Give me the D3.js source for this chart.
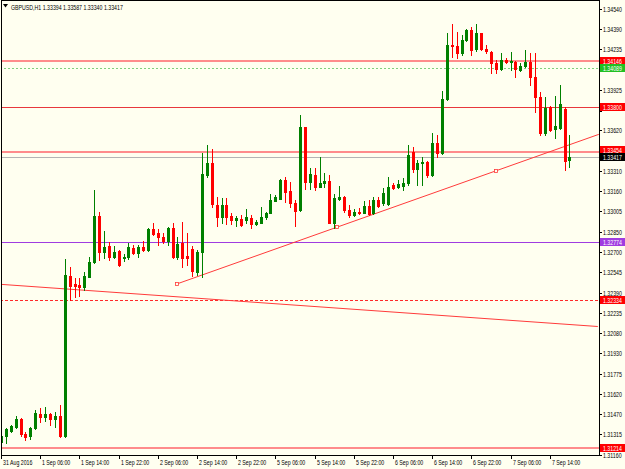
<!DOCTYPE html>
<html lang="en">
<head>
<meta charset="utf-8">
<title>GBPUSD,H1</title>
<script src="https://cdn.jsdelivr.net/npm/d3@7"></script>
<style>
  body { margin: 0; background: #fffff0; }
  svg { display: block; }
  .lbl { font-family: "Liberation Sans", Arial, sans-serif; font-size: 7px; }
</style>
</head>
<body>
<svg id="chart" width="625" height="469"></svg>
<script>
// one bar per hour, bar 0 = 31 Aug 22:00 (weekend hours skipped)
var opens = [1.31260,1.31305,1.31343,1.31373,1.31434,1.31320,1.31305,1.31366,1.31472,1.31449,
  1.31472,1.31434,1.31457,1.31305,1.32516,1.32455,1.32444,1.32433,1.32508,1.32622,
  1.32971,1.32698,1.32743,1.32660,1.32705,1.32655,1.32660,1.32728,1.32690,1.32736,
  1.32713,1.32872,1.32842,1.32812,1.32781,1.32880,1.32660,1.32766,1.32664,1.32721,
  1.32546,1.32698,1.33282,1.33373,1.33054,1.32963,1.33054,1.32971,1.32944,1.32948,
  1.32940,1.32956,1.32910,1.32918,1.32963,1.32993,1.33084,1.33100,1.33244,1.33160,
  1.33069,1.33016,1.33645,1.33228,1.33282,1.33191,1.33221,1.33236,1.32918,1.33100,
  1.33115,1.33016,1.32978,1.33001,1.32993,1.33046,1.32993,1.33092,1.33069,1.33062,
  1.33206,1.33191,1.33198,1.33221,1.33456,1.33327,1.33375,1.33380,1.33282,1.33524,
  1.33448,1.33858,1.34267,1.34259,1.34206,1.34305,1.34381,1.34237,1.34358,1.34237,
  1.34214,1.34130,1.34085,1.34153,1.34138,1.34138,1.34077,1.34108,1.34138,1.34024,
  1.33873,1.33600,1.33797,1.33627,1.33638,1.33782,1.33394];
var highs = [1.31366,1.31366,1.31388,1.31457,1.31442,1.31335,1.31373,1.31502,1.31517,1.31525,
  1.31479,1.31487,1.31540,1.32645,1.32584,1.32501,1.32501,1.32546,1.32660,1.33168,
  1.33001,1.32857,1.32774,1.32743,1.32713,1.32683,1.32766,1.32751,1.32751,1.32781,
  1.32880,1.32918,1.32872,1.32842,1.32887,1.32918,1.32812,1.32925,1.32842,1.32743,
  1.32713,1.33448,1.33509,1.33479,1.33115,1.33107,1.33107,1.32993,1.32971,1.32978,
  1.33024,1.32978,1.32940,1.33039,1.33001,1.33138,1.33130,1.33251,1.33266,1.33228,
  1.33092,1.33736,1.33645,1.33335,1.33335,1.33418,1.33297,1.33282,1.33138,1.33198,
  1.33122,1.33054,1.33024,1.33031,1.33084,1.33092,1.33115,1.33115,1.33183,1.33266,
  1.33221,1.33244,1.33259,1.33509,1.33494,1.33395,1.33418,1.33384,1.33600,1.33585,
  1.33918,1.34358,1.34426,1.34365,1.34343,1.34388,1.34403,1.34426,1.34358,1.34267,
  1.34221,1.34153,1.34206,1.34168,1.34214,1.34142,1.34130,1.34229,1.34206,1.34206,
  1.33911,1.33873,1.33805,1.33881,1.33964,1.33797,1.33587];
var lows = [1.31252,1.31252,1.31335,1.31366,1.31305,1.31275,1.31282,1.31358,1.31411,1.31419,
  1.31388,1.31373,1.31297,1.31297,1.32335,1.32357,1.32364,1.32410,1.32508,1.32614,
  1.32637,1.32652,1.32637,1.32652,1.32592,1.32630,1.32645,1.32686,1.32660,1.32705,
  1.32705,1.32827,1.32751,1.32766,1.32751,1.32652,1.32645,1.32584,1.32599,1.32516,
  1.32524,1.32508,1.33266,1.33039,1.32895,1.32918,1.32910,1.32910,1.32895,1.32895,
  1.32918,1.32880,1.32903,1.32914,1.32948,1.32990,1.33084,1.33096,1.33077,1.33039,
  1.32895,1.33009,1.33175,1.33175,1.33168,1.33187,1.33191,1.32914,1.32880,1.33092,
  1.33001,1.32963,1.32971,1.32986,1.32990,1.32978,1.32986,1.33039,1.33054,1.33054,
  1.33175,1.33183,1.33168,1.33206,1.33304,1.33206,1.33206,1.33266,1.33274,1.33418,
  1.33444,1.33850,1.34176,1.34168,1.34191,1.34297,1.34191,1.34221,1.34229,1.34206,
  1.34055,1.34055,1.34077,1.34130,1.34077,1.34024,1.34070,1.34100,1.33964,1.33759,
  1.33585,1.33585,1.33615,1.33560,1.33630,1.33319,1.33340];
var closes = [1.31305,1.31358,1.31381,1.31434,1.31320,1.31297,1.31366,1.31479,1.31449,1.31472,
  1.31434,1.31457,1.31305,1.32524,1.32440,1.32440,1.32436,1.32516,1.32622,1.32971,
  1.32698,1.32736,1.32660,1.32698,1.32599,1.32662,1.32736,1.32690,1.32736,1.32713,
  1.32872,1.32834,1.32812,1.32781,1.32880,1.32660,1.32758,1.32652,1.32649,1.32554,
  1.32698,1.33289,1.33373,1.33062,1.32963,1.33054,1.32963,1.32940,1.32959,1.32903,
  1.32963,1.32910,1.32925,1.32963,1.32993,1.33093,1.33115,1.33244,1.33153,1.33069,
  1.33009,1.33645,1.33228,1.33289,1.33191,1.33221,1.33236,1.32918,1.33107,1.33115,
  1.33016,1.32978,1.33001,1.32993,1.33046,1.32986,1.33092,1.33046,1.33145,1.33191,
  1.33183,1.33213,1.33221,1.33433,1.33327,1.33373,1.33382,1.33282,1.33524,1.33448,
  1.33858,1.34267,1.34259,1.34206,1.34305,1.34381,1.34229,1.34358,1.34237,1.34221,
  1.34130,1.34085,1.34153,1.34138,1.34146,1.34085,1.34108,1.34138,1.34024,1.33873,
  1.33600,1.33789,1.33623,1.33653,1.33820,1.33388,1.33417];

var timeLabels = ["31 Aug 2016","1 Sep 06:00","1 Sep 14:00","1 Sep 22:00","2 Sep 06:00",
  "2 Sep 14:00","2 Sep 22:00","5 Sep 06:00","5 Sep 14:00","5 Sep 22:00","6 Sep 06:00",
  "6 Sep 14:00","6 Sep 22:00","7 Sep 06:00","7 Sep 14:00"];
var priceTicks = [1.34540,1.34390,1.34235,1.34080,1.33925,1.33770,1.33620,1.33465,1.33310,
  1.33160,1.33005,1.32850,1.32700,1.32545,1.32390,1.32235,1.32080,1.31930,1.31775,
  1.31620,1.31470,1.31315,1.31160];

// horizontal levels drawn on the chart
var zoneLevels = [1.34146, 1.33454, 1.31214];
var redLevel = 1.33800;
var greenDotLevel = 1.34089;
var purpleLevel = 1.32774;
var redDotLevel = 1.32334;
var bidPrice = closes[closes.length - 1];

// trendlines as [bar, price] anchor pairs
var trendDown = [[-0.2, 1.32453], [121.8, 1.32133]];
var trendUp = [[36, 1.32457], [101, 1.33313]];

var svg = d3.select("#chart");
var W = 625, H = 469;
var plotRight = 599, plotBottom = 455;

var x = d3.scaleLinear().domain([0, 122]).range([1, 598.8]);
var y = d3.scaleLinear().domain([1.31159, 1.34608]).range([455, 0]);

svg.append("rect").attr("width", W).attr("height", H).attr("fill", "#fffff0");

var plot = svg.append("g");
plot.append("clipPath").attr("id", "clip")
  .append("rect").attr("x", 1).attr("y", 1).attr("width", plotRight - 1).attr("height", plotBottom - 1);
var g = plot.append("g").attr("clip-path", "url(#clip)");

function hline(price, color, width, dash) {
  var yy = Math.round(y(price)) + (width % 2 ? 0.5 : 0);
  g.append("line")
    .attr("x1", 0).attr("x2", plotRight).attr("y1", yy).attr("y2", yy)
    .attr("stroke", color).attr("stroke-width", width)
    .attr("stroke-dasharray", dash || null);
}

hline(bidPrice, "#b4b4b4", 1);
zoneLevels.forEach(function (p) { hline(p, "#ff8c8c", 2); });
hline(redLevel, "#e8383d", 1);
hline(greenDotLevel, "#7fd07f", 1, "2,2");
hline(purpleLevel, "#a03ce0", 1);
hline(redDotLevel, "#ff2a2a", 1, "3,2");

// trendlines (rays)
function ray(pts, extend) {
  var x0 = pts[0][0], p0 = pts[0][1], x1 = pts[1][0], p1 = pts[1][1];
  var slope = (p1 - p0) / (x1 - x0);
  var xe = extend ? 122 : x1;
  g.append("line")
    .attr("x1", x(x0)).attr("y1", y(p0))
    .attr("x2", x(xe)).attr("y2", y(p0 + slope * (xe - x0)))
    .attr("stroke", "#ff3b3b").attr("stroke-width", 1);
}
ray(trendDown, false);
ray(trendUp, true);
// anchor handles on the up trendline
var mid = [(trendUp[0][0] + trendUp[1][0]) / 2, (trendUp[0][1] + trendUp[1][1]) / 2];
[trendUp[0], mid, trendUp[1]].forEach(function (d) {
  g.append("rect")
    .attr("x", Math.round(x(d[0])) - 1.5).attr("y", Math.round(y(d[1])) - 1.5)
    .attr("width", 3).attr("height", 3)
    .attr("fill", "#fffff0").attr("stroke", "#ff3b3b").attr("stroke-width", 0.8);
});

// candles
var bars = opens.map(function (o, i) {
  return { i: i, o: o, h: highs[i], l: lows[i], c: closes[i] };
});
var cg = g.append("g").attr("shape-rendering", "crispEdges");
bars.forEach(function (d) {
  var cx = Math.round(x(d.i));
  var col = d.c >= d.o ? "#008000" : "#ff0000";
  cg.append("line")
    .attr("x1", cx + 0.5).attr("x2", cx + 0.5)
    .attr("y1", Math.round(y(d.h))).attr("y2", Math.round(y(d.l)) + 1)
    .attr("stroke", col);
  var top = Math.round(y(Math.max(d.o, d.c)));
  var bot = Math.round(y(Math.min(d.o, d.c)));
  cg.append("rect")
    .attr("x", cx - 1).attr("y", top)
    .attr("width", 3).attr("height", Math.max(1, bot - top + 1))
    .attr("fill", col);
});

// frame
var frame = svg.append("g").attr("shape-rendering", "crispEdges");
frame.append("line").attr("x1", 1.5).attr("x2", 1.5).attr("y1", 0).attr("y2", plotBottom + 0.5).attr("stroke", "#000");
frame.append("line").attr("x1", 1).attr("x2", plotRight + 0.5).attr("y1", plotBottom + 0.5).attr("y2", plotBottom + 0.5).attr("stroke", "#000");
frame.append("line").attr("x1", plotRight + 0.5).attr("x2", plotRight + 0.5).attr("y1", 0).attr("y2", plotBottom + 0.5).attr("stroke", "#000");
frame.append("line").attr("x1", 1).attr("x2", plotRight + 0.5).attr("y1", 0.5).attr("y2", 0.5).attr("stroke", "#000");

// price tags on the right (coloured boxes cover the scale labels under them)
var tags = [];
zoneLevels.forEach(function (p) { tags.push({ p: p, bg: "#ff0000" }); });
tags.push({ p: redLevel, bg: "#ff0000" });
tags.push({ p: greenDotLevel, bg: "#22c022" });
tags.push({ p: purpleLevel, bg: "#a03ce0" });
tags.push({ p: redDotLevel, bg: "#ff0000" });
tags.push({ p: bidPrice, bg: "#000000" });
tags.forEach(function (t) { t.y = Math.round(y(t.p)); });
// bid tag stays on its line; a tag just above it is pushed up so both read
var bidTag = tags[tags.length - 1];
tags.forEach(function (t) {
  if (t !== bidTag && t.y < bidTag.y && bidTag.y - t.y < 7) t.y = bidTag.y - 7;
});

// price axis
priceTicks.forEach(function (p) {
  var yy = Math.round(y(p)) + 0.5;
  frame.append("line").attr("x1", plotRight).attr("x2", plotRight + 3).attr("y1", yy).attr("y2", yy).attr("stroke", "#000");
  var hidden = tags.some(function (t) { return Math.abs(t.y - y(p)) < 4.5; });
  if (hidden) return;
  svg.append("text").attr("class", "lbl")
    .attr("transform", "translate(" + (plotRight + 4) + "," + (yy + 2.5) + ") scale(0.75,1)")
    .text(p.toFixed(5));
});

// time axis
timeLabels.forEach(function (t, k) {
  var xx = Math.round(x(k * 8)) + 0.5;
  frame.append("line").attr("x1", xx).attr("x2", xx).attr("y1", plotBottom).attr("y2", plotBottom + 4).attr("stroke", "#000");
  svg.append("text").attr("class", "lbl")
    .attr("transform", "translate(" + (xx + 1.5) + "," + (plotBottom + 10) + ") scale(0.75,1)")
    .text(t);
});

tags.forEach(function (t) {
  svg.append("rect").attr("x", plotRight + 1).attr("y", t.y - 4).attr("width", W - plotRight).attr("height", 8)
    .attr("fill", t.bg).attr("shape-rendering", "crispEdges");
  svg.append("text").attr("class", "lbl").attr("fill", "#fff")
    .attr("transform", "translate(" + (plotRight + 4) + "," + (t.y + 2.5) + ") scale(0.75,1)")
    .text(t.p.toFixed(5));
});

// header
svg.append("path").attr("d", "M3,4 L8,4 L5.5,7.5 Z").attr("fill", "#000");
svg.append("text").attr("class", "lbl")
  .attr("transform", "translate(11,9.5) scale(0.75,1)")
  .text("GBPUSD,H1  " + [opens[116], highs[116], lows[116], closes[116]].map(function (v) { return v.toFixed(5); }).join(" "));
</script>
</body>
</html>
